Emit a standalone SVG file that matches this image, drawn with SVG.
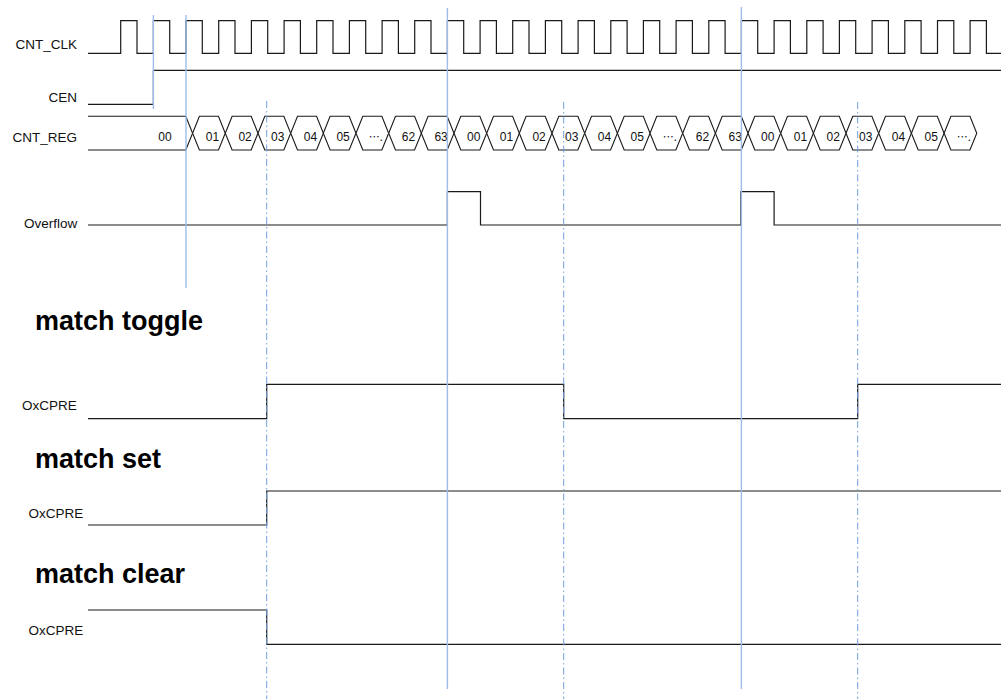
<svg xmlns="http://www.w3.org/2000/svg" xmlns:xlink="http://www.w3.org/1999/xlink" width="1001" height="699" viewBox="0 0 1001 699">
<style>
.lbl{font-family:"Liberation Sans",Arial,sans-serif;font-size:13.5px;fill:#111;text-anchor:end}
.val{font-family:"Liberation Sans","Noto Sans CJK SC",sans-serif;font-size:12px;fill:#111;text-anchor:middle}
.dots{font-family:"Noto Sans CJK SC","Liberation Sans",sans-serif;font-size:11px;fill:#111;text-anchor:middle}
.ttl{font-family:"Liberation Sans",Arial,sans-serif;font-size:27px;font-weight:bold;fill:#000}
.wave{fill:none;stroke:#1a1a1a;stroke-width:1.2}
.guide{stroke:#9dbde8;stroke-width:1.4;fill:none}
.dash{stroke:#6f9fdc;stroke-width:1;fill:none;stroke-dasharray:7 3 1.5 3}
</style>
<defs>
<polygon id="hex" points="0,16.9 6.8,0 25.87,0 32.67,16.9 25.87,33.7 6.8,33.7" fill="#fff" stroke="#1a1a1a" stroke-width="1.1"/>
</defs>
<rect width="1001" height="699" fill="#fff"/>

<g id="cnt_clk">
<text class="lbl" x="77" y="48.5">CNT_CLK</text>
<path class="wave" d="M88,53.3 H120.7 V20.7 H137 V53.3 H153.4 V20.7 H169.7 V53.3 H186 V20.7 H202.3 V53.3 H218.7 V20.7 H235 V53.3 H251.4 V20.7 H267.7 V53.3 H284.1 V20.7 H300.4 V53.3 H316.7 V20.7 H333 V53.3 H349.4 V20.7 H365.7 V53.3 H382.1 V20.7 H398.4 V53.3 H414.7 V20.7 H431 V53.3 H447.4 V20.7 H463.7 V53.3 H480.1 V20.7 H496.4 V53.3 H512.7 V20.7 H529 V53.3 H545.4 V20.7 H561.7 V53.3 H578.1 V20.7 H594.4 V53.3 H610.8 V20.7 H627.1 V53.3 H643.4 V20.7 H659.7 V53.3 H676.1 V20.7 H692.4 V53.3 H708.8 V20.7 H725.1 V53.3 H741.4 V20.7 H757.7 V53.3 H774.1 V20.7 H790.4 V53.3 H806.8 V20.7 H823.1 V53.3 H839.4 V20.7 H855.7 V53.3 H872.1 V20.7 H888.4 V53.3 H904.8 V20.7 H921.1 V53.3 H937.5 V20.7 H953.8 V53.3 H970.1 V20.7 H986.4 V53.3 H1001"/>
</g>

<g id="cen">
<text class="lbl" x="77" y="101.5">CEN</text>
<path class="wave" d="M88,104.3 H153.4 V70.3 H1001"/>
</g>

<g id="cnt_reg">
<text class="lbl" x="77" y="141.5">CNT_REG</text>
<path d="M88,116.3 H185.8 L192.6,133.2 L185.8,150 H88" fill="#fff" stroke="#1a1a1a" stroke-width="1.1"/>
<text class="val" x="165" y="140.5">00</text>
<use xlink:href="#hex" x="192.6" y="116.3"/>
<use xlink:href="#hex" x="225.3" y="116.3"/>
<use xlink:href="#hex" x="258.0" y="116.3"/>
<use xlink:href="#hex" x="290.7" y="116.3"/>
<use xlink:href="#hex" x="323.3" y="116.3"/>
<use xlink:href="#hex" x="356.0" y="116.3"/>
<use xlink:href="#hex" x="388.7" y="116.3"/>
<use xlink:href="#hex" x="421.3" y="116.3"/>
<use xlink:href="#hex" x="454.0" y="116.3"/>
<use xlink:href="#hex" x="486.7" y="116.3"/>
<use xlink:href="#hex" x="519.3" y="116.3"/>
<use xlink:href="#hex" x="552.0" y="116.3"/>
<use xlink:href="#hex" x="584.7" y="116.3"/>
<use xlink:href="#hex" x="617.4" y="116.3"/>
<use xlink:href="#hex" x="650.0" y="116.3"/>
<use xlink:href="#hex" x="682.7" y="116.3"/>
<use xlink:href="#hex" x="715.4" y="116.3"/>
<use xlink:href="#hex" x="748.0" y="116.3"/>
<use xlink:href="#hex" x="780.7" y="116.3"/>
<use xlink:href="#hex" x="813.4" y="116.3"/>
<use xlink:href="#hex" x="846.0" y="116.3"/>
<use xlink:href="#hex" x="878.7" y="116.3"/>
<use xlink:href="#hex" x="911.4" y="116.3"/>
<use xlink:href="#hex" x="944.1" y="116.3"/>
<text class="val" x="212.4" y="140.5">01</text>
<text class="val" x="245.1" y="140.5">02</text>
<text class="val" x="277.8" y="140.5">03</text>
<text class="val" x="310.5" y="140.5">04</text>
<text class="val" x="343.1" y="140.5">05</text>
<text class="dots" x="375.8" y="140.5">….</text>
<text class="val" x="408.5" y="140.5">62</text>
<text class="val" x="441.1" y="140.5">63</text>
<text class="val" x="473.8" y="140.5">00</text>
<text class="val" x="506.5" y="140.5">01</text>
<text class="val" x="539.1" y="140.5">02</text>
<text class="val" x="571.8" y="140.5">03</text>
<text class="val" x="604.5" y="140.5">04</text>
<text class="val" x="637.2" y="140.5">05</text>
<text class="dots" x="669.8" y="140.5">….</text>
<text class="val" x="702.5" y="140.5">62</text>
<text class="val" x="735.2" y="140.5">63</text>
<text class="val" x="767.8" y="140.5">00</text>
<text class="val" x="800.5" y="140.5">01</text>
<text class="val" x="833.2" y="140.5">02</text>
<text class="val" x="865.8" y="140.5">03</text>
<text class="val" x="898.5" y="140.5">04</text>
<text class="val" x="931.2" y="140.5">05</text>
<text class="dots" x="963.9" y="140.5">….</text>
</g>

<g id="overflow">
<text class="lbl" x="77.3" y="228">Overflow</text>
<path class="wave" d="M88,225 H447.4 V191.7 H480.5 V225 H740.9 V191.7 H774.1 V225 H1001"/>
</g>

<g id="match_toggle">
<text class="ttl" x="35" y="330">match toggle</text>
<text class="lbl" x="76.7" y="410">OxCPRE</text>
<path class="wave" d="M88,418.7 H266.7 V384.3 H563.7 V418.7 H857.7 V384.3 H1001"/>
</g>

<g id="match_set">
<text class="ttl" x="35" y="468">match set</text>
<text class="lbl" x="83.3" y="518">OxCPRE</text>
<path class="wave" d="M88,525 H266.7 V491 H1001"/>
</g>

<g id="match_clear">
<text class="ttl" x="35" y="583">match clear</text>
<text class="lbl" x="83.3" y="635">OxCPRE</text>
<path class="wave" d="M88,610 H266.7 V644.3 H1001"/>
</g>

<g id="connectors">
<line class="guide" x1="153.4" y1="15" x2="153.4" y2="109"/>
<line class="guide" x1="186" y1="15" x2="186" y2="288"/>
<line class="guide" x1="447.4" y1="8" x2="447.4" y2="689"/>
<line class="guide" x1="741.4" y1="7" x2="741.4" y2="689"/>
<line class="dash" x1="266.7" y1="101" x2="266.7" y2="699"/>
<line class="dash" x1="563.7" y1="102" x2="563.7" y2="699"/>
<line class="dash" x1="857.7" y1="102" x2="857.7" y2="699"/>
</g>
</svg>
